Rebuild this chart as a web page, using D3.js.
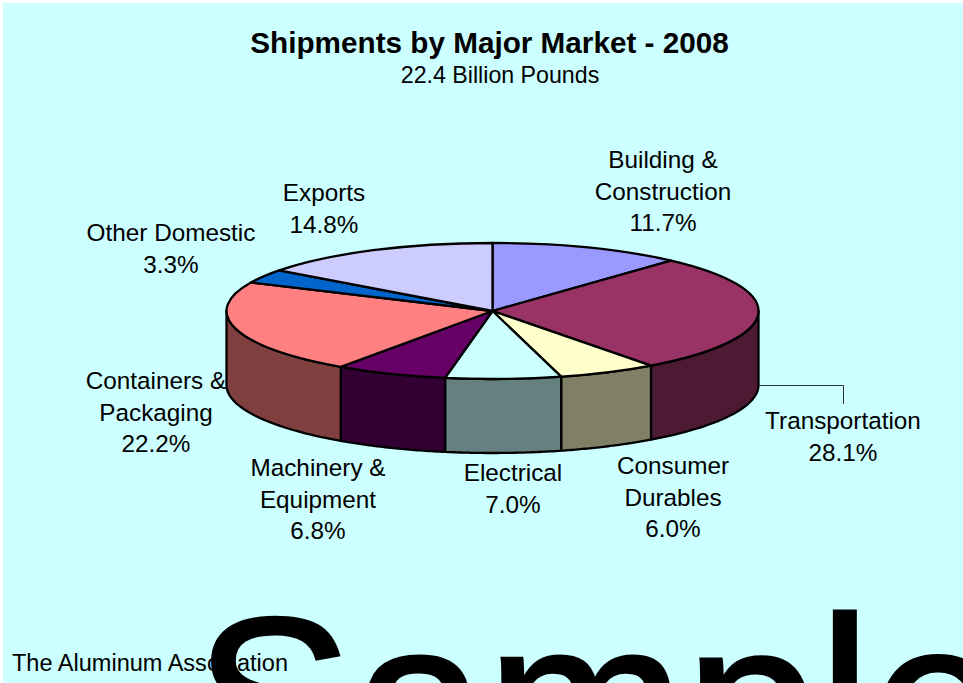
<!DOCTYPE html>
<html>
<head>
<meta charset="utf-8" />
<script src="https://d3js.org/d3.v7.min.js"></script>
<title>Shipments by Major Market - 2008</title>
<style>
  html, body { margin: 0; padding: 0; background: #fff; overflow: hidden; }
  text { font-family: "Liberation Sans", Arial, sans-serif; fill: #000; }
</style>
</head>
<body>
<div id="chart"></div>
<script>
// values, clockwise from 12 o'clock
var markets = ["Building & Construction", "Transportation", "Consumer Durables", "Electrical",
               "Machinery & Equipment", "Containers & Packaging", "Other Domestic", "Exports"];
var shares = [11.7, 28.1, 6.0, 7.0, 6.8, 22.2, 3.3, 14.8];
var labelLines = [["Building &", "Construction"], ["Transportation"], ["Consumer", "Durables"], ["Electrical"],
                  ["Machinery &", "Equipment"], ["Containers &", "Packaging"], ["Other Domestic"], ["Exports"]];
var topColors = ["#9999FF", "#993366", "#FFFFCC", "#CCFFFF", "#660066", "#FF8080", "#0066CC", "#CCCCFF"];
var sideColors = ["#4D4D80", "#4D1A33", "#808066", "#668080", "#330033", "#804040", "#003366", "#666680"];

// layout, kept apart from the data
var width = 963, height = 683;
var cx = 492.5, cy = 311, rx = 266, ry = 68, depth = 74;
var labelXY = [[663, 168], [843, 429], [673, 474], [513, 481], [318, 476], [156, 389], [171, 241], [324, 201]];
var lineGap = 31.5;

var svg = d3.select("#chart").append("svg")
    .attr("width", width)
    .attr("height", height)
    .style("display", "block");

svg.append("rect")
    .attr("x", 3).attr("y", 3)
    .attr("width", width - 3).attr("height", height - 3)
    .attr("fill", "#CCFFFF");

svg.append("text")
    .attr("x", 489.5).attr("y", 53)
    .attr("text-anchor", "middle")
    .attr("font-size", 29.7).attr("font-weight", "bold")
    .text("Shipments by Major Market - 2008");

svg.append("text")
    .attr("x", 500).attr("y", 83)
    .attr("text-anchor", "middle")
    .attr("font-size", 23.2)
    .text("22.4 Billion Pounds");

var arcs = d3.pie().sort(null).value(function(d) { return d; })(shares);

var px = function(a) { return cx + rx * Math.sin(a); };
var py = function(a) { return cy - ry * Math.cos(a); };

// side wall, only the part of each slice facing the viewer
var frontStart = Math.PI / 2, frontEnd = Math.PI * 3 / 2;
var line = d3.line().x(function(p) { return p[0]; }).y(function(p) { return p[1]; });

var sides = svg.append("g");
arcs.forEach(function(d, i) {
  var a0 = Math.max(d.startAngle, frontStart), a1 = Math.min(d.endAngle, frontEnd);
  if (a1 <= a0) return;
  var steps = d3.range(0, 41).map(function(k) { return a0 + (a1 - a0) * k / 40; });
  var upper = steps.map(function(a) { return [px(a), py(a)]; });
  var lower = steps.slice().reverse().map(function(a) { return [px(a), py(a) + depth]; });
  sides.append("path")
      .attr("d", line(upper.concat(lower)) + "Z")
      .attr("fill", sideColors[i])
      .attr("stroke", "#000")
      .attr("stroke-width", 2.3)
      .attr("stroke-linejoin", "round");
});

// top face: unit circle arcs squashed into the ellipse
var arc = d3.arc().innerRadius(0).outerRadius(rx);
svg.append("g")
    .attr("transform", "translate(" + cx + "," + cy + ") scale(1," + (ry / rx) + ")")
  .selectAll("path")
  .data(arcs)
  .enter().append("path")
    .attr("d", arc)
    .attr("fill", function(d, i) { return topColors[i]; })
    .attr("stroke", "#000")
    .attr("stroke-width", 2.3)
    .attr("stroke-linejoin", "round")
    .attr("vector-effect", "non-scaling-stroke");

// leader line for Transportation
svg.append("path")
    .attr("d", line([[759, 385.5], [843.5, 385.5], [843.5, 404]]))
    .attr("fill", "none")
    .attr("stroke", "#333")
    .attr("stroke-width", 1);

// slice labels
markets.forEach(function(name, i) {
  var t = svg.append("text")
      .attr("text-anchor", "middle")
      .attr("font-size", 24.3);
  labelLines[i].concat([shares[i].toFixed(1) + "%"]).forEach(function(s, k) {
    t.append("tspan")
        .attr("x", labelXY[i][0])
        .attr("y", labelXY[i][1] + k * lineGap)
        .text(s);
  });
});

svg.append("text")
    .attr("x", 12).attr("y", 671)
    .attr("font-size", 23)
    .attr("textLength", 276)
    .attr("lengthAdjust", "spacingAndGlyphs")
    .text("The Aluminum Association");

// watermark, runs off the page
svg.append("text")
    .attr("x", 194).attr("y", 785)
    .attr("font-size", 239)
    .attr("stroke", "#000")
    .attr("stroke-width", 3)
    .text("Sample");
</script>
</body>
</html>
